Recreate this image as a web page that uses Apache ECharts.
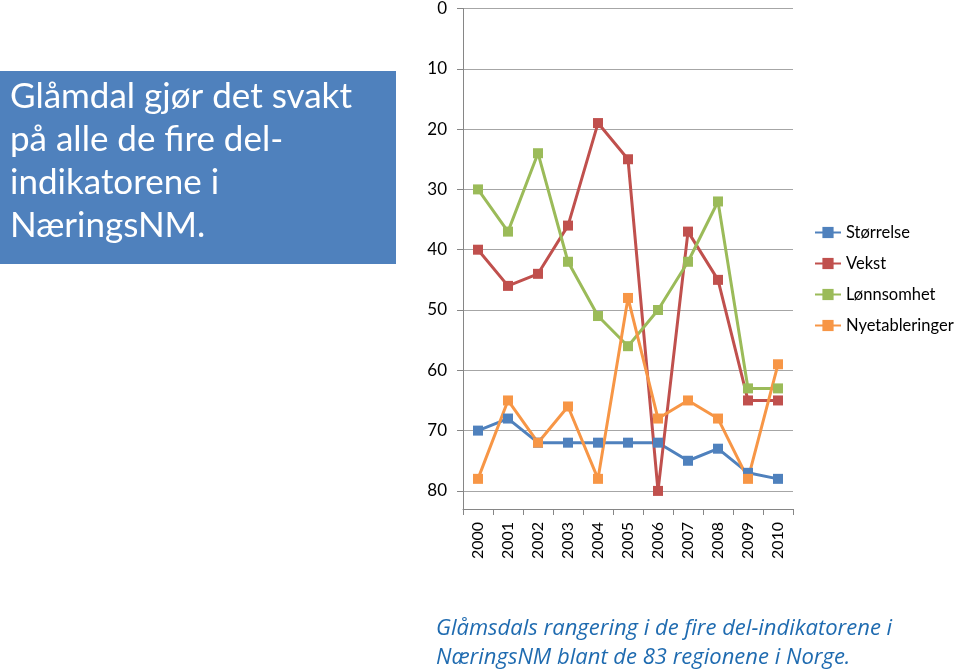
<!DOCTYPE html>
<html><head><meta charset="utf-8">
<script src="https://cdn.jsdelivr.net/npm/echarts@6/dist/echarts.min.js"></script>
<style>html,body{margin:0;padding:0;background:#fff}#c{width:960px;height:670px}</style>
</head><body><div id="c"></div>
<script>
const years = ['2000','2001','2002','2003','2004','2005','2006','2007','2008','2009','2010'];
const storrelse = [70, 68, 72, 72, 72, 72, 72, 75, 73, 77, 78];
const vekst = [40, 46, 44, 36, 19, 25, 80, 37, 45, 65, 65];
const lonnsomhet = [30, 37, 24, 42, 51, 56, 50, 42, 32, 63, 63];
const nyetableringer = [78, 65, 72, 66, 78, 48, 68, 65, 68, 78, 59];
const seriesNames = ['Størrelse', 'Vekst', 'Lønnsomhet', 'Nyetableringer'];
const colors = ['#4F81BD', '#C0504D', '#9BBB59', '#F79646'];
const boxLines = ['Glåmdal gjør det svakt', 'på alle de fire del-', 'indikatorene i', 'NæringsNM.'];
const captionLines = ['Glåmsdals rangering i de fire del-indikatorene i', 'NæringsNM blant de 83 regionene i Norge.'];

const font = 'Lato, "Open Sans", sans-serif';
const capFont = '"Open Sans", Lato, sans-serif';
const chart = echarts.init(document.getElementById('c'), null, {renderer: 'canvas'});
const data = [storrelse, vekst, lonnsomhet, nyetableringer];
chart.setOption({
  animation: false,
  color: colors,
  grid: {left: 463, right: 167, top: 8, bottom: 161, containLabel: false},
  legend: {
    orient: 'vertical', left: 809, top: 219, itemGap: 14, itemWidth: 26, itemHeight: 14,
    textStyle: {fontSize: 16.5, lineHeight: 17, color: '#000', fontFamily: font},
    data: seriesNames
  },
  xAxis: {
    type: 'category', data: years, boundaryGap: true,
    axisLine: {onZero: false, lineStyle: {color: '#868686', width: 1}},
    axisTick: {show: true, alignWithLabel: false, length: 6, lineStyle: {color: '#868686'}},
    axisLabel: {rotate: 90, fontSize: 16, color: '#000', fontFamily: font, margin: 13}
  },
  yAxis: {
    type: 'value', inverse: true, min: 0, max: 83, interval: 10,
    axisLine: {show: true, lineStyle: {color: '#868686'}},
    axisTick: {show: true, length: 6, lineStyle: {color: '#868686'}},
    axisLabel: {fontSize: 17, color: '#000', fontFamily: font, margin: 16, showMaxLabel: false,
      formatter: v => (v % 10 === 0 ? String(v) : '')},
    splitLine: {show: true, lineStyle: {color: '#a6a6a6', width: 1}}
  },
  series: seriesNames.map((n, i) => ({
    name: n, type: 'line', data: data[i],
    symbol: 'rect', symbolSize: 10, showSymbol: true,
    lineStyle: {width: 3, color: colors[i]},
    itemStyle: {color: colors[i]}
  })),
  graphic: [
    {type: 'rect', left: 0, top: 71, shape: {width: 396, height: 193}, style: {fill: '#4F81BD'}, z: 10},
    ...boxLines.map((t, i) => ({
      type: 'text', left: 10, top: 79 + i * 43, z: 11,
      style: {text: t, fill: '#fff', font: '35px ' + font}
    })),
    ...captionLines.map((t, i) => ({
      type: 'text', left: 436, top: 618 + i * 29, z: 11,
      style: {text: t, fill: '#1F6BB0', font: 'italic 22px ' + capFont}
    }))
  ]
});
</script></body></html>
